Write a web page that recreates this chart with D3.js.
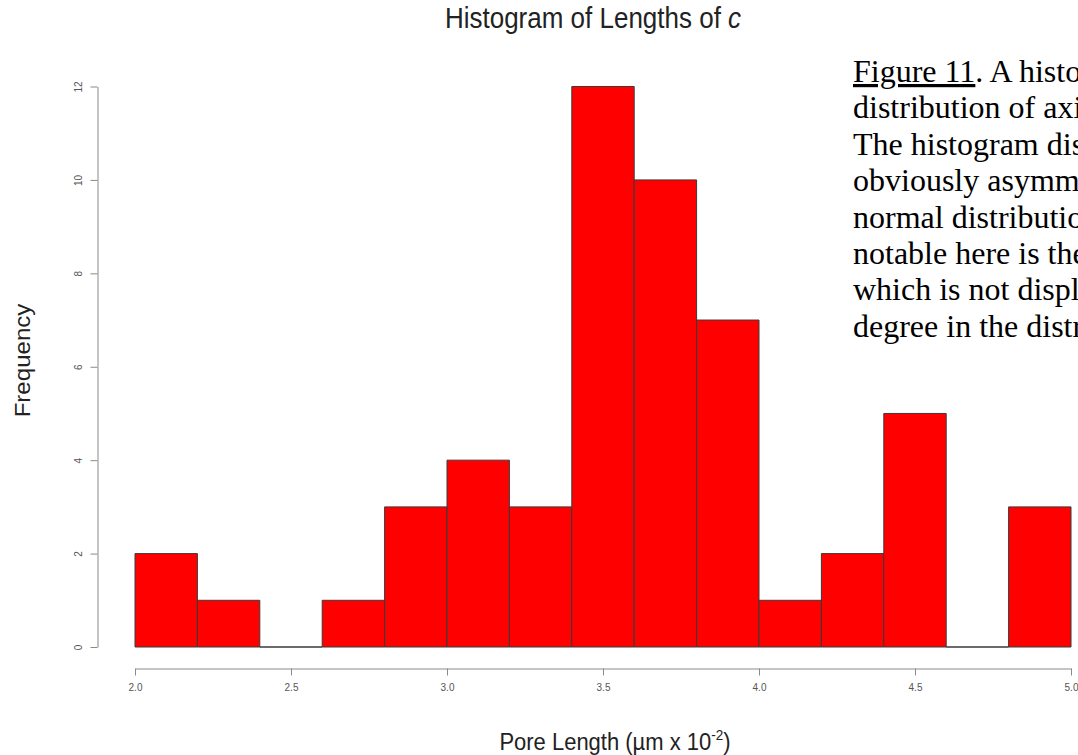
<!DOCTYPE html>
<html>
<head>
<meta charset="utf-8">
<script src="https://cdn.jsdelivr.net/npm/d3@7/dist/d3.min.js"></script>
<style>
  html, body { margin: 0; padding: 0; background: #fff; }
  svg { display: block; }
</style>
</head>
<body>
<svg id="chart" width="1078" height="755"></svg>
<script>
// Histogram bins (lower edges, width 0.2) and their counts
const binStarts = [2.0, 2.2, 2.4, 2.6, 2.8, 3.0, 3.2, 3.4, 3.6, 3.8, 4.0, 4.2, 4.4, 4.6, 4.8];
const counts    = [2, 1, 0, 1, 3, 4, 3, 12, 10, 7, 1, 2, 5, 0, 3];
const binWidth = 0.2;
const xTicks = [2.0, 2.5, 3.0, 3.5, 4.0, 4.5, 5.0];
const yTicks = [0, 2, 4, 6, 8, 10, 12];
const captionLines = [
  "distribution of axi",
  "The histogram dis",
  "obviously asymm",
  "normal distributio",
  "notable here is the",
  "which is not displ",
  "degree in the distr"
];

const svg = d3.select("#chart");
const sans = "Liberation Sans, Arial, sans-serif";
const stretchY = 1.12; // plot text is slightly taller than wide

const x = d3.scaleLinear().domain([2.0, 5.0]).range([135, 1071]);
const y = d3.scaleLinear().domain([0, 12]).range([647, 86.5]);

// bars as closed paths so empty bins still show their base line
svg.append("g").selectAll("path")
  .data(binStarts.map((s, i) => ({ s, c: counts[i] })))
  .join("path")
  .attr("d", d => {
    const x0 = x(d.s), x1 = x(d.s + binWidth), y0 = y(0), y1 = y(d.c);
    return `M${x0},${y0}H${x1}V${y1}H${x0}Z`;
  })
  .attr("fill", "#ff0000")
  .attr("stroke", "#3a3a3a")
  .attr("stroke-width", 1);

// x axis
const xAxis = svg.append("g")
  .attr("transform", "translate(0,668.5)")
  .call(d3.axisBottom(x).tickValues(xTicks).tickFormat(d3.format(".1f")).tickSize(7).tickSizeOuter(0));
xAxis.select(".domain").attr("stroke", "#8a8a8a");
xAxis.selectAll(".tick line").attr("stroke", "#8a8a8a");
xAxis.selectAll(".tick text")
  .attr("fill", "#555").attr("font-family", sans)
  .attr("font-size", 10).attr("y", 22).attr("dy", 0);

// y axis
const yAxis = svg.append("g")
  .attr("transform", "translate(97.5,0)")
  .call(d3.axisLeft(y).tickValues(yTicks).tickSize(7).tickSizeOuter(0));
yAxis.select(".domain").attr("stroke", "#8a8a8a");
yAxis.selectAll(".tick line").attr("stroke", "#8a8a8a");
yAxis.selectAll(".tick text")
  .attr("fill", "#555").attr("font-family", sans)
  .attr("font-size", 10)
  .attr("x", 0).attr("y", 0).attr("dy", 0)
  .attr("text-anchor", "middle")
  .attr("transform", "translate(-16,0) rotate(-90)");

// title
const title = svg.append("text")
  .attr("transform", `translate(593,28) scale(1,${stretchY})`)
  .attr("text-anchor", "middle")
  .attr("font-family", sans)
  .attr("font-size", 26).attr("fill", "#222");
title.append("tspan").text("Histogram of Lengths of ");
title.append("tspan").attr("font-style", "italic").text("c");

// x label
const xl = svg.append("text")
  .attr("transform", `translate(615,750) scale(1,${stretchY})`)
  .attr("text-anchor", "middle")
  .attr("font-family", sans)
  .attr("font-size", 22).attr("fill", "#222");
xl.append("tspan").text("Pore Length (\u00b5m x 10");
xl.append("tspan").attr("font-size", 13.5).attr("dy", -9).text("-2");
xl.append("tspan").attr("dy", 9).text(")");

// y label
svg.append("text")
  .attr("transform", `translate(30,360.5) rotate(-90) scale(${stretchY},1)`)
  .attr("text-anchor", "middle")
  .attr("font-family", sans)
  .attr("font-size", 21.5).attr("fill", "#222")
  .text("Frequency");

// caption text on the right (runs past the right edge)
const cap = svg.append("g")
  .attr("font-family", "Liberation Serif, Times New Roman, serif")
  .attr("font-size", 32).attr("fill", "#000");
const first = cap.append("text").attr("x", 853).attr("y", 82);
first.append("tspan").attr("text-decoration", "underline").text("Figure 11");
first.append("tspan").text(". A histo");
cap.selectAll("text.line")
  .data(captionLines)
  .join("text")
  .attr("class", "line")
  .attr("x", 853)
  .attr("y", (d, i) => 82 + (i + 1) * 36.4)
  .text(d => d);
</script>
</body>
</html>
